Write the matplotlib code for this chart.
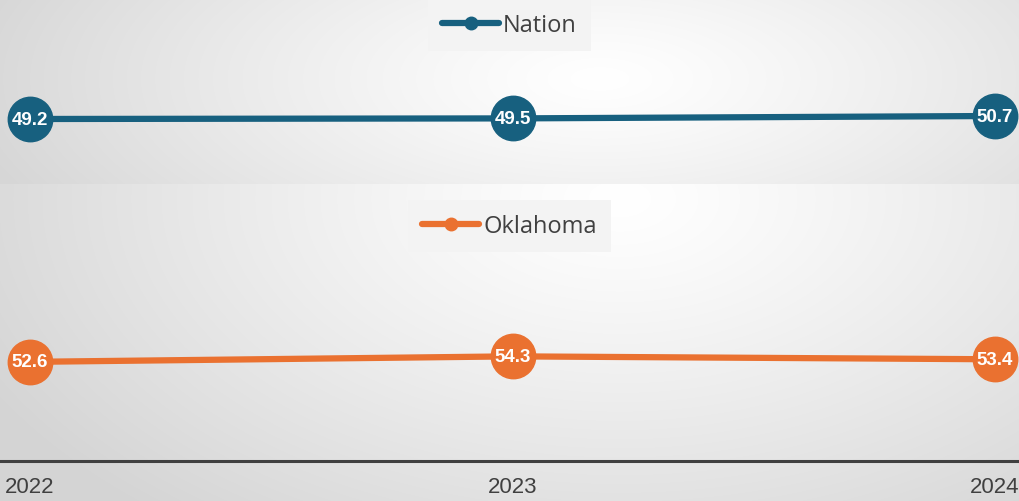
import numpy as np
import matplotlib
matplotlib.use("Agg")
import matplotlib.pyplot as plt
from matplotlib.lines import Line2D

# ---- data ----
years = [2022, 2023, 2024]
year_labels = ["2022", "2023", "2024"]
nation = [49.2, 49.5, 50.7]
oklahoma = [52.6, 54.3, 53.4]
series_names = ["Nation", "Oklahoma"]
series_colors = ["#17607f", "#ea7130"]

W, H = 1019, 502
fig = plt.figure(figsize=(W / 100, H / 100), dpi=100)


def rect_px(x0, y0, x1, y1):
    """pixel box (top-left origin) -> figure fraction rect"""
    return [x0 / W, 1 - y1 / H, (x1 - x0) / W, (y1 - y0) / H]


def gradient_bg(y0, y1, cx, cy, rx, ry, c_in, c_out):
    ax = fig.add_axes(rect_px(0, y0, W, y1), zorder=0)
    xs = np.arange(W) + 0.5
    ys = np.arange(y0, y1) + 0.5
    X, Y = np.meshgrid(xs, ys)
    d = np.sqrt(((X - cx) / rx) ** 2 + ((Y - cy) / ry) ** 2)
    d = np.clip(d, 0, 1) ** 1.2
    cin = np.array(c_in) / 255.0
    cout = np.array(c_out) / 255.0
    img = cin[None, None, :] * (1 - d[..., None]) + cout[None, None, :] * d[..., None]
    ax.imshow(img, aspect="auto", extent=[0, 1, 0, 1], interpolation="bilinear")
    ax.set_axis_off()
    return ax


gradient_bg(0, 185, 600, 80, 650, 260, (255, 255, 255), (214, 214, 214))
gradient_bg(185, 502, 620, 200, 720, 420, (255, 255, 255), (212, 212, 212))

xlim = (2022 - 30 / 482.5, 2024 + 24 / 482.5)

ax_top = fig.add_axes(rect_px(0, 0, W, 185), zorder=2)
ax_bot = fig.add_axes(rect_px(0, 185, W, 462), zorder=2)

panels = [
    (ax_top, nation, series_names[0], series_colors[0], (16.7, 109.2), 0.0),
    (ax_bot, oklahoma, series_names[1], series_colors[1], (22.0, 107.5), 0.68),
]

for ax, vals, name, col, ylim, leg_pad in panels:
    ax.patch.set_alpha(0)
    ax.plot(years, vals, color=col, lw=4.5, solid_capstyle="butt", zorder=3)
    ax.plot(years, vals, linestyle="none", marker="o", markersize=32,
            markerfacecolor=col, markeredgecolor=col, zorder=4, clip_on=False)
    for x, v in zip(years, vals):
        ax.text(x, v, f"{v:.1f}", color="white", fontsize=13.5, fontweight="bold",
                family="Liberation Sans", ha="center", va="center", zorder=5)
    ax.set_xlim(*xlim)
    ax.set_ylim(*ylim)
    ax.set_yticks([])
    for s in ["top", "left", "right", "bottom"]:
        ax.spines[s].set_visible(False)
    handle = Line2D([], [], color=col, lw=4.5, marker="o", markersize=9,
                    solid_capstyle="round")
    leg = ax.legend([handle], [name], loc="upper center",
                    bbox_to_anchor=(0.5, 1.0), borderaxespad=leg_pad,
                    frameon=True, fancybox=False, framealpha=1,
                    facecolor="#f3f3f3", edgecolor="none",
                    handlelength=2.4, handletextpad=0.18, borderpad=0.6,
                    prop={"family": "Open Sans", "size": 17})
    for t in leg.get_texts():
        t.set_color("#404040")

ax_top.set_xticks([])
ax_bot.set_xticks(years)
ax_bot.set_xticklabels(year_labels, family="Liberation Sans", fontsize=16,
                       color="#404040")
ax_bot.tick_params(axis="x", length=0, pad=11)
ax_bot.spines["bottom"].set_visible(True)
ax_bot.spines["bottom"].set_color("#404040")
ax_bot.spines["bottom"].set_linewidth(2.2)

fig.savefig("out.png", dpi=100)
